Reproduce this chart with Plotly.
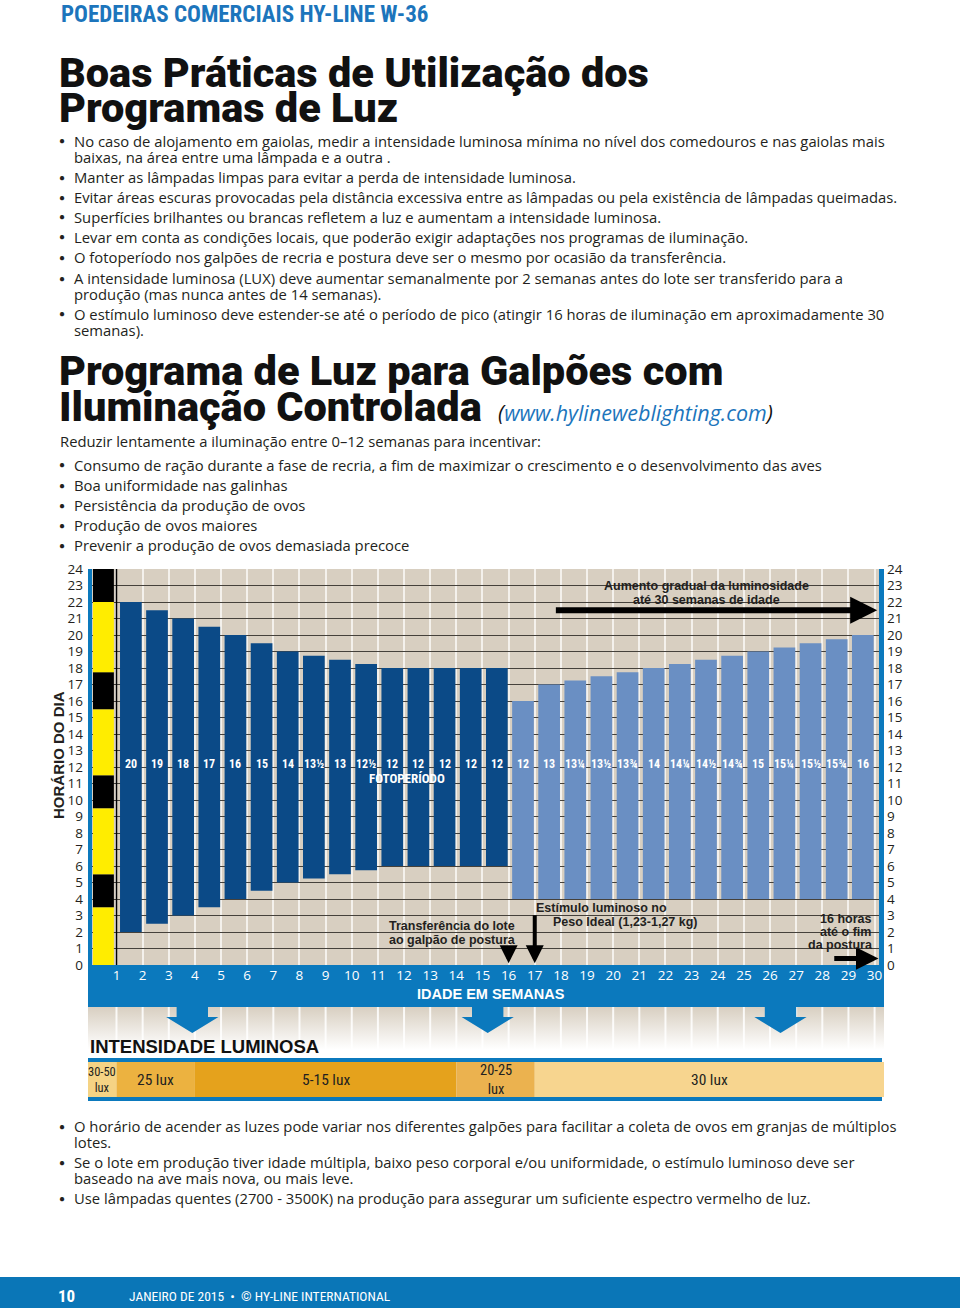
import plotly.graph_objects as go

W, H = 960, 1308

# ---- chart data -------------------------------------------------------
weeks = list(range(1, 30))
lights_on = [2, 2.5, 3, 3.5, 4, 4.5, 5, 5.25, 5.5, 5.75, 6, 6, 6, 6, 6,
             4, 4, 4, 4, 4, 4, 4, 4, 4, 4, 4, 4, 4, 4]
photoperiod = [20, 19, 18, 17, 16, 15, 14, 13.5, 13, 12.5, 12, 12, 12, 12, 12,
               12, 13, 13.25, 13.5, 13.75, 14, 14.25, 14.5, 14.75, 15, 15.25, 15.5, 15.75, 16]
photo_labels = ["20", "19", "18", "17", "16", "15", "14", "13½", "13", "12½",
                "12", "12", "12", "12", "12", "12", "13", "13¼", "13½", "13¾",
                "14", "14¼", "14½", "14¾", "15", "15¼", "15½", "15¾", "16"]
n_rearing = 15

week_ticks = list(range(1, 31))
hour_ticks = list(range(0, 25))

# first week: intermittent light (from bottom)
first_week_hours = [3.5, 2, 4, 2, 4, 2.25, 4.25, 2]
first_week_light = [True, False, True, False, True, False, True, False]

lux_start = [-0.09, 1, 4, 14, 17]
lux_end = [1, 4, 14, 17, 30.36]
lux_labels = ["30-50<br>lux", "25 lux", "5-15 lux", "20-25<br>lux", "30 lux"]
lux_colors = ["#f5d384", "#ecb240", "#e5a21c", "#ebb24f", "#f7d58f"]

arrow_weeks = [3.9, 15.2, 26.4]

# ---- styles -----------------------------------------------------------
BODY = "Open Sans, Noto Sans, sans-serif"
HEAD = "Roboto, Inter, sans-serif"
NARROW = "Liberation Sans Narrow, Arial Narrow, Roboto Condensed, Roboto, sans-serif"
ARIAL = "Liberation Sans, Arial, sans-serif"
BLUE = "#0b79bd"
DARK = "#0b4a87"
LIGHT = "#6a8fc3"
BEIGE = "#d8cfc1"
INK = "#231f20"

XR = [-0.09, 30.36]
X0, X1 = 88, 884


def px(x):
    return x / W


def py(y):
    return 1 - y / H


ann = []


def txt(x, y, s, size=14.8, color=INK, family=BODY, weight="normal", xanchor="left", style="normal"):
    ann.append(dict(x=px(x), y=py(y), xref="paper", yref="paper", text=s, showarrow=False,
                    xanchor=xanchor, yanchor="middle",
                    font=dict(size=size, color=color, family=family, weight=weight, style=style)))


def dot(y):
    txt(62, y, "●", 10, INK, ARIAL, "normal", "center")


def bullet(y, s):
    dot(y)
    txt(72, y, s)


fig = go.Figure()

# first week stripe
base = 0
for h, lit in zip(first_week_hours, first_week_light):
    fig.add_bar(x=[0.5], y=[h], base=[base], width=0.8,
                marker=dict(color="#ffed00" if lit else "#000000", line_width=0),
                hoverinfo="skip", showlegend=False)
    base += h

# photoperiod bars
fig.add_bar(x=[w + 0.55 for w in weeks], y=photoperiod, base=lights_on, width=0.83,
            marker=dict(color=[DARK if i < n_rearing else LIGHT for i in range(len(weeks))], line_width=0),
            hoverinfo="skip", showlegend=False)

# right axis helper trace
fig.add_scatter(x=[0], y=[0], yaxis="y2", mode="markers", opacity=0, hoverinfo="skip", showlegend=False)

# fade under the week band
fig.add_scatter(x=[XR[0], XR[1], XR[1], XR[0]], y=[0, 0, 1, 1], yaxis="y4", fill="toself",
                mode="none", fillgradient=dict(type="vertical", start=0, stop=1,
                                                colorscale=[[0, "#ffffff"], [0.2, "#ffffff"], [1, BEIGE]]),
                hoverinfo="skip", showlegend=False)
vx, vy = [], []
for w in week_ticks:
    vx += [w, w, None]
    vy += [0.2, 1, None]
fig.add_scatter(x=vx, y=vy, yaxis="y4", mode="lines", line=dict(color="rgba(255,255,255,0.85)", width=2),
                hoverinfo="skip", showlegend=False)

# light intensity band
fig.add_bar(y=[0.5] * len(lux_start), x=[e - s for s, e in zip(lux_start, lux_end)], base=lux_start,
            orientation="h", width=1, yaxis="y3", marker=dict(color=lux_colors, line_width=0),
            hoverinfo="skip", showlegend=False)
for s, e, lab in zip(lux_start, lux_end, lux_labels):
    size = 12.5 if e - s < 2 else (14.5 if "<br>" in lab else 15.5)
    ann.append(dict(x=(s + e) / 2, y=0.5, xref="x", yref="y3", text=lab, showarrow=False,
                    xanchor="center", yanchor="middle",
                    font=dict(size=size, color=INK, family=NARROW)))

# bar labels
for w, lab in zip(weeks, photo_labels):
    ann.append(dict(x=w + 0.55, y=12.2, xref="x", yref="y", text=lab, showarrow=False,
                    xanchor="center", yanchor="middle",
                    font=dict(size=12, color="white", family=NARROW, weight="bold")))

# chart arrows
arrows = [
    (30.1, 21.5, 17.75, 21.5, 6),
    (16.0, 0.1, 16.0, 1.05, 4),
    (17.0, 0.1, 17.0, 3.1, 4),
    (30.15, 0.4, 28.4, 0.4, 5),
]
for hx, hy, tx, ty, wdt in arrows:
    ann.append(dict(x=hx, y=hy, ax=tx, ay=ty, xref="x", yref="y", axref="x", ayref="y",
                    text="", showarrow=True, arrowhead=2, arrowsize=0.9, arrowwidth=wdt,
                    arrowcolor="black", standoff=0))

shapes = []
# chart frame stripes
shapes.append(dict(type="rect", xref="paper", yref="paper", x0=px(88), x1=px(92), y0=py(569), y1=py(965),
                   fillcolor=BLUE, line_width=0, layer="above"))
shapes.append(dict(type="rect", xref="paper", yref="paper", x0=px(879), x1=px(884), y0=py(569), y1=py(965),
                   fillcolor=BLUE, line_width=0, layer="above"))
shapes.append(dict(type="line", xref="x", yref="y", x0=1, x1=1, y0=0, y1=24,
                   line=dict(color="black", width=1.5), layer="above"))
# week band
shapes.append(dict(type="rect", xref="paper", yref="paper", x0=px(88), x1=px(884), y0=py(1007), y1=py(965),
                   fillcolor=BLUE, line_width=0, layer="below"))
# down arrows
for c in arrow_weeks:
    s, hd = 0.6, 1.0
    yt, ym, yb = py(1006), py(1017), py(1033)
    path = (f"M {c - s} {yt} L {c + s} {yt} L {c + s} {ym} L {c + hd} {ym} "
            f"L {c} {yb} L {c - hd} {ym} L {c - s} {ym} Z")
    shapes.append(dict(type="path", xref="x", yref="paper", path=path, fillcolor=BLUE, line_width=0,
                       layer="above"))
# lux band lines
for y0, y1 in [(1058, 1062), (1097, 1101)]:
    shapes.append(dict(type="rect", xref="paper", yref="paper", x0=px(88), x1=px(882), y0=py(y1), y1=py(y0),
                       fillcolor=BLUE, line_width=0, layer="above"))
# footer
shapes.append(dict(type="rect", xref="paper", yref="paper", x0=0, x1=1, y0=0, y1=py(1277),
                   fillcolor="#0a76b7", line_width=0, layer="below"))

# ---- texts ------------------------------------------------------------
txt(59, 14, "POEDEIRAS COMERCIAIS HY-LINE W-36", 23, "#1c75bc", NARROW, "bold")
txt(57, 72, "Boas Práticas de Utilização dos", 41.5, "#111111", HEAD, 900)
txt(57, 108, "Programas de Luz", 41.5, "#111111", HEAD, 900)

bullet(141, "No caso de alojamento em gaiolas, medir a intensidade luminosa mínima no nível dos comedouros e nas gaiolas mais")
txt(72, 157, "baixas, na área entre uma lâmpada e a outra .")
bullet(177, "Manter as lâmpadas limpas para evitar a perda de intensidade luminosa.")
bullet(197, "Evitar áreas escuras provocadas pela distância excessiva entre as lâmpadas ou pela existência de lâmpadas queimadas.")
bullet(217, "Superfícies brilhantes ou brancas refletem a luz e aumentam a intensidade luminosa.")
bullet(237, "Levar em conta as condições locais, que poderão exigir adaptações nos programas de iluminação.")
bullet(257, "O fotoperíodo nos galpões de recria e postura deve ser o mesmo por ocasião da transferência.")
bullet(278, "A intensidade luminosa (LUX) deve aumentar semanalmente por 2 semanas antes do lote ser transferido para a")
txt(72, 294, "produção (mas nunca antes de 14 semanas).")
bullet(314, "O estímulo luminoso deve estender-se até o período de pico (atingir 16 horas de iluminação em aproximadamente 30")
txt(72, 330, "semanas).")

txt(57, 370, "Programa de Luz para Galpões com", 41.5, "#111111", HEAD, 900)
txt(57, 407, "Iluminação Controlada", 41.5, "#111111", HEAD, 900)
txt(496, 412, "(<span style='color:#1c75bc'>www.hylineweblighting.com</span>)", 21.5, "#111111", BODY, "normal",
    style="italic")
txt(58, 441, "Reduzir lentamente a iluminação entre 0–12 semanas para incentivar:")
bullet(465, "Consumo de ração durante a fase de recria, a fim de maximizar o crescimento e o desenvolvimento das aves")
bullet(485, "Boa uniformidade nas galinhas")
bullet(505, "Persistência da produção de ovos")
bullet(525, "Produção de ovos maiores")
bullet(545, "Prevenir a produção de ovos demasiada precoce")

bullet(1126, "O horário de acender as luzes pode variar nos diferentes galpões para facilitar a coleta de ovos em granjas de múltiplos")
txt(72, 1142, "lotes.")
bullet(1162, "Se o lote em produção tiver idade múltipla, baixo peso corporal e/ou uniformidade, o estímulo luminoso deve ser")
txt(72, 1178, "baseado na ave mais nova, ou mais leve.")
bullet(1198, "Use lâmpadas quentes (2700 - 3500K) na produção para assegurar um suficiente espectro vermelho de luz.")

# chart texts
ann.append(dict(x=px(58), y=py(755), xref="paper", yref="paper", text="HORÁRIO DO DIA", showarrow=False,
                textangle=-90, xanchor="center", yanchor="middle",
                font=dict(size=15, color=INK, family=ARIAL, weight="bold")))
txt(706, 586, "Aumento gradual da luminosidade", 12.5, INK, ARIAL, "bold", "center")
txt(706, 600, "até 30 semanas de idade", 12.5, INK, ARIAL, "bold", "center")
txt(407, 778, "FOTOPERÍODO", 13, "white", NARROW, "bold", "center")
txt(452, 926, "Transferência do lote", 12.5, INK, ARIAL, "bold", "center")
txt(452, 940, "ao galpão de postura", 12.5, INK, ARIAL, "bold", "center")
txt(534, 908, "Estímulo luminoso no", 12.5, INK, ARIAL, "bold")
txt(551, 922, "Peso Ideal (1,23-1,27 kg)", 12.5, INK, ARIAL, "bold")
txt(873, 919, "16 horas", 12.5, INK, ARIAL, "bold", "right")
txt(873, 932, "até o fim", 12.5, INK, ARIAL, "bold", "right")
txt(875, 945, "da postura", 12.5, INK, ARIAL, "bold", "right")
txt(491, 994, "IDADE EM SEMANAS", 14.5, "white", ARIAL, "bold", "center")
txt(88, 1046, "INTENSIDADE LUMINOSA", 18.5, "#111111", ARIAL, "bold")

txt(66, 1296, "10", 17, "white", NARROW, "bold", "center")
txt(127, 1296, "JANEIRO DE 2015  •  © HY-LINE INTERNATIONAL", 13.5, "white", NARROW)

fig.update_layout(
    width=W, height=H, margin=dict(l=0, r=0, t=0, b=0, pad=0, autoexpand=False),
    paper_bgcolor="white", plot_bgcolor=BEIGE, barmode="overlay", showlegend=False,
    annotations=ann, shapes=shapes,
    xaxis=dict(domain=[px(X0), px(X1)], range=XR, tickvals=week_ticks, ticks="", showgrid=True,
               gridcolor="#f4f1ec", gridwidth=2, zeroline=False, showline=False, anchor="y",
               automargin=False,
               tickfont=dict(size=13.5, color="white", family=BODY), fixedrange=True),
    yaxis=dict(domain=[py(965), py(569)], range=[0, 24], tickvals=hour_ticks, ticks="", showgrid=True,
               gridcolor="#45413b", gridwidth=1, zeroline=False, showline=False, anchor="x",
               automargin=False, ticklabelstandoff=4,
               tickfont=dict(size=13.5, color=INK, family=BODY), fixedrange=True),
    yaxis2=dict(overlaying="y", side="right", anchor="x", range=[0, 24], tickvals=hour_ticks, ticks="",
                showgrid=False, zeroline=False, automargin=False, ticklabelstandoff=2,
                tickfont=dict(size=13.5, color=INK, family=BODY), fixedrange=True),
    yaxis3=dict(domain=[py(1097), py(1062)], range=[0, 1], anchor="x", showgrid=False, zeroline=False,
                showticklabels=False, automargin=False, fixedrange=True),
    yaxis4=dict(domain=[py(1060), py(1007)], range=[0, 1], anchor="x", showgrid=False, zeroline=False,
                showticklabels=False, automargin=False, fixedrange=True),
)

fig.write_html("out.html", config={"displayModeBar": False},
               post_script="document.body.style.margin='0';")
